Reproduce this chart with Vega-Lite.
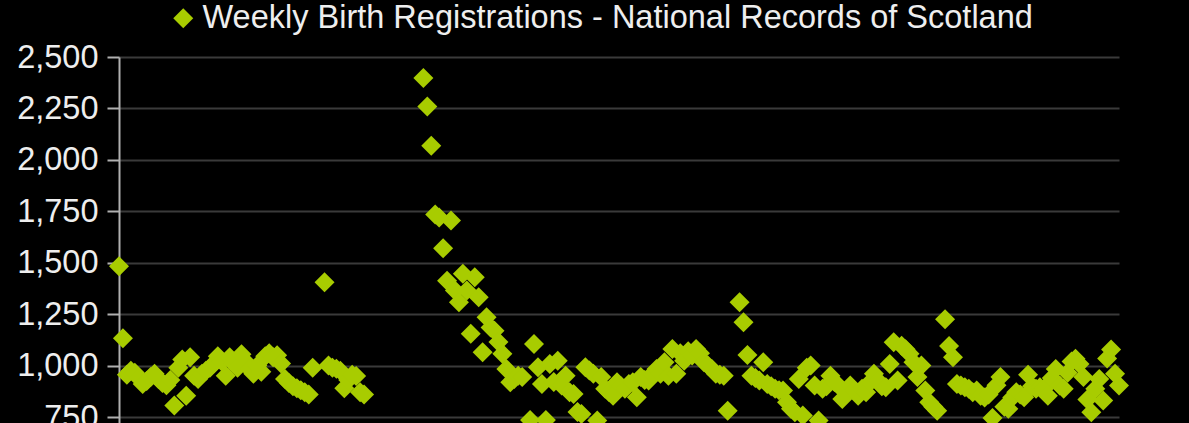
{
  "$schema": "https://vega.github.io/schema/vega-lite/v6.json",
  "width": 1000,
  "height": 366,
  "autosize": {"type": "none"},
  "padding": {"left": 119, "top": 57, "right": 70, "bottom": 0},
  "background": "#000000",
  "config": {"view": {"stroke": null}, "font": "Liberation Sans"},
  "data": {"values": [
    {"week":0,"births":1483},{"week":1,"births":1133},{"week":2,"births":955},{"week":3,"births":975},{"week":4,"births":965},{"week":5,"births":940},{"week":6,"births":910},{"week":7,"births":925},{"week":8,"births":945},{"week":9,"births":960},
    {"week":10,"births":935},{"week":11,"births":915},{"week":12,"births":905},{"week":13,"births":930},{"week":14,"births":806},{"week":15,"births":990},{"week":16,"births":1030},{"week":17,"births":854},{"week":18,"births":1040},{"week":19,"births":951},
    {"week":20,"births":935},{"week":21,"births":960},{"week":22,"births":975},{"week":23,"births":990},{"week":24,"births":1010},{"week":25,"births":1045},{"week":26,"births":1020},{"week":27,"births":951},{"week":28,"births":1040},{"week":29,"births":1010},
    {"week":30,"births":990},{"week":31,"births":1055},{"week":32,"births":1020},{"week":33,"births":985},{"week":34,"births":960},{"week":35,"births":1000},{"week":36,"births":970},{"week":37,"births":1045},{"week":38,"births":1060},{"week":39,"births":1040},
    {"week":40,"births":1050},{"week":41,"births":1010},{"week":42,"births":935},{"week":43,"births":915},{"week":44,"births":900},{"week":45,"births":890},{"week":46,"births":880},{"week":47,"births":870},{"week":48,"births":860},{"week":49,"births":990},
    {"week":50,"births":650},{"week":51,"births":450},{"week":52,"births":1405},{"week":53,"births":1000},{"week":54,"births":990},{"week":55,"births":985},{"week":56,"births":975},{"week":57,"births":890},{"week":58,"births":930},{"week":59,"births":955},
    {"week":60,"births":950},{"week":61,"births":870},{"week":62,"births":860},{"week":63,"births":310},{"week":64,"births":20},{"week":65,"births":15},{"week":66,"births":10},{"week":67,"births":10},{"week":68,"births":12},{"week":69,"births":15},
    {"week":70,"births":15},{"week":71,"births":20},{"week":72,"births":25},{"week":73,"births":30},{"week":74,"births":40},{"week":75,"births":60},{"week":76,"births":250},{"week":77,"births":2398},{"week":78,"births":2259},{"week":79,"births":2069},
    {"week":80,"births":1734},{"week":81,"births":1720},{"week":82,"births":1570},{"week":83,"births":1413},{"week":84,"births":1705},{"week":85,"births":1365},{"week":86,"births":1308},{"week":87,"births":1446},{"week":88,"births":1365},{"week":89,"births":1155},
    {"week":90,"births":1430},{"week":91,"births":1332},{"week":92,"births":1065},{"week":93,"births":1235},{"week":94,"births":1185},{"week":95,"births":1170},{"week":96,"births":1115},{"week":97,"births":1057},{"week":98,"births":984},{"week":99,"births":919},
    {"week":100,"births":935},{"week":101,"births":951},{"week":102,"births":945},{"week":103,"births":600},{"week":104,"births":735},{"week":105,"births":1105},{"week":106,"births":992},{"week":107,"births":911},{"week":108,"births":735},{"week":109,"births":1008},
    {"week":110,"births":920},{"week":111,"births":1024},{"week":112,"births":903},{"week":113,"births":951},{"week":114,"births":870},{"week":115,"births":862},{"week":116,"births":775},{"week":117,"births":765},{"week":118,"births":992},{"week":119,"births":976},
    {"week":120,"births":960},{"week":121,"births":733},{"week":122,"births":944},{"week":123,"births":887},{"week":124,"births":870},{"week":125,"births":854},{"week":126,"births":919},{"week":127,"births":900},{"week":128,"births":887},{"week":129,"births":910},
    {"week":130,"births":919},{"week":131,"births":846},{"week":132,"births":944},{"week":133,"births":930},{"week":134,"births":927},{"week":135,"births":960},{"week":136,"births":984},{"week":137,"births":960},{"week":138,"births":1016},{"week":139,"births":951},
    {"week":140,"births":1081},{"week":141,"births":960},{"week":142,"births":1060},{"week":143,"births":1024},{"week":144,"births":1070},{"week":145,"births":1049},{"week":146,"births":1081},{"week":147,"births":1060},{"week":148,"births":1016},{"week":149,"births":1000},
    {"week":150,"births":984},{"week":151,"births":960},{"week":152,"births":955},{"week":153,"births":951},{"week":154,"births":781},{"week":155,"births":550},{"week":156,"births":400},{"week":157,"births":1308},{"week":158,"births":1211},{"week":159,"births":1052},
    {"week":160,"births":951},{"week":161,"births":940},{"week":162,"births":927},{"week":163,"births":1016},{"week":164,"births":911},{"week":165,"births":900},{"week":166,"births":887},{"week":167,"births":880},{"week":168,"births":879},{"week":169,"births":822},
    {"week":170,"births":790},{"week":171,"births":773},{"week":172,"births":935},{"week":173,"births":757},{"week":174,"births":990},{"week":175,"births":1000},{"week":176,"births":903},{"week":177,"births":733},{"week":178,"births":887},{"week":179,"births":900},
    {"week":180,"births":951},{"week":181,"births":920},{"week":182,"births":903},{"week":183,"births":838},{"week":184,"births":871},{"week":185,"births":903},{"week":186,"births":880},{"week":187,"births":854},{"week":188,"births":887},{"week":189,"births":870},
    {"week":190,"births":919},{"week":191,"births":960},{"week":192,"births":927},{"week":193,"births":900},{"week":194,"births":895},{"week":195,"births":1008},{"week":196,"births":1114},{"week":197,"births":927},{"week":198,"births":1097},{"week":199,"births":1080},
    {"week":200,"births":1057},{"week":201,"births":1016},{"week":202,"births":944},{"week":203,"births":1000},{"week":204,"births":879},{"week":205,"births":822},{"week":206,"births":800},{"week":207,"births":781},{"week":208,"births":500},{"week":209,"births":1225},
    {"week":210,"births":1095},{"week":211,"births":1041},{"week":212,"births":911},{"week":213,"births":903},{"week":214,"births":895},{"week":215,"births":887},{"week":216,"births":870},{"week":217,"births":879},{"week":218,"births":854},{"week":219,"births":845},
    {"week":220,"births":860},{"week":221,"births":745},{"week":222,"births":905},{"week":223,"births":944},{"week":224,"births":800},{"week":225,"births":790},{"week":226,"births":845},{"week":227,"births":871},{"week":228,"births":860},{"week":229,"births":846},
    {"week":230,"births":955},{"week":231,"births":900},{"week":232,"births":887},{"week":233,"births":895},{"week":234,"births":887},{"week":235,"births":854},{"week":236,"births":940},{"week":237,"births":984},{"week":238,"births":903},{"week":239,"births":887},
    {"week":240,"births":965},{"week":241,"births":1020},{"week":242,"births":1033},{"week":243,"births":1008},{"week":244,"births":944},{"week":245,"births":835},{"week":246,"births":773},{"week":247,"births":887},{"week":248,"births":935},{"week":249,"births":830},
    {"week":250,"births":1035},{"week":251,"births":1078},{"week":252,"births":960},{"week":253,"births":903}
  ]},
  "mark": {"type": "point", "shape": "diamond", "filled": true, "size": 400, "opacity": 1, "strokeWidth": 0},
  "encoding": {
    "x": {"field": "week", "type": "quantitative", "scale": {"domain": [0, 253], "nice": false, "zero": false}, "axis": null},
    "y": {"field": "births", "type": "quantitative",
      "scale": {"domain": [721, 2500], "nice": false, "zero": false},
      "axis": {"values": [750, 1000, 1250, 1500, 1750, 2000, 2250, 2500], "format": ",.0f", "title": null,
        "grid": true, "gridColor": "#3a3a3a", "gridWidth": 2,
        "domainColor": "#b0b0b0", "domainWidth": 2, "tickColor": "#b0b0b0", "tickWidth": 2, "tickSize": 12,
        "labelFont": "Liberation Sans", "labelFontSize": 32.5, "labelColor": "#eeeeee", "labelPadding": 9}},
    "color": {"datum": "Weekly Birth Registrations - National Records of Scotland",
      "scale": {"range": ["#a8cc00"]},
      "legend": {"orient": "none", "legendX": 48, "legendY": -55, "title": null, "padding": 0,
        "symbolType": "diamond", "symbolSize": 400, "symbolStrokeWidth": 0,
        "labelFont": "Liberation Sans", "labelFontSize": 32.5, "labelColor": "#eeeeee", "labelOffset": 3, "labelLimit": 1200}}
  }
}
